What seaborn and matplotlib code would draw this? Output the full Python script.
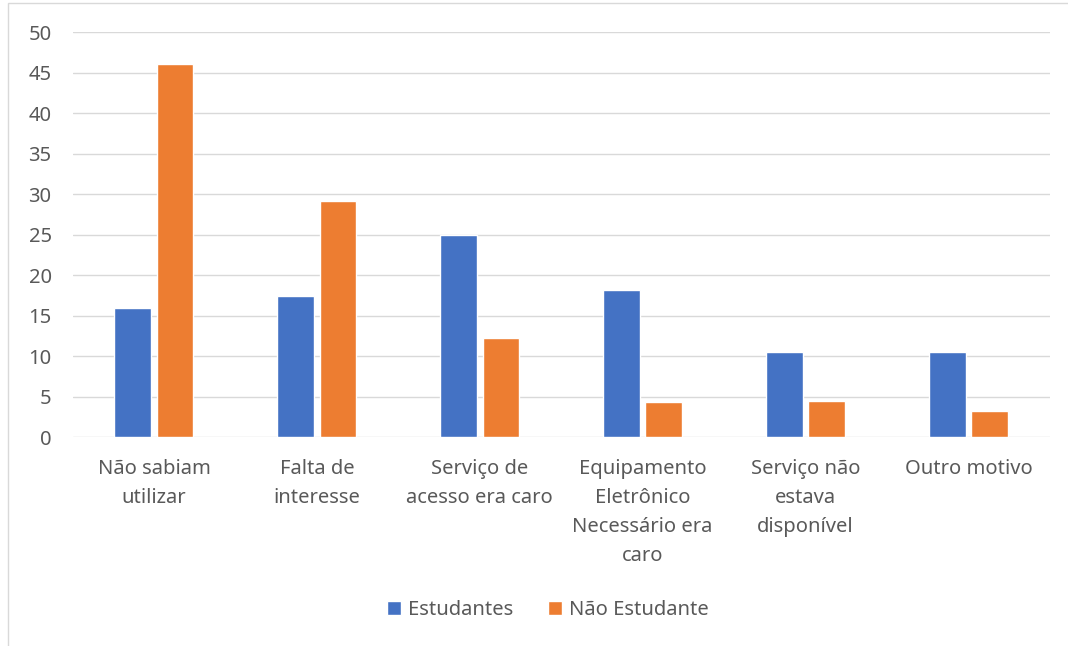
import matplotlib
matplotlib.use("Agg")
import matplotlib.pyplot as plt
from matplotlib.patches import Rectangle
import pandas as pd
import seaborn as sns

# Dados
categorias = ["Não sabiam\nutilizar", "Falta de\ninteresse", "Serviço de\nacesso era caro",
              "Equipamento\nEletrônico\nNecessário era\ncaro", "Serviço não\nestava\ndisponível",
              "Outro motivo"]
estudantes = [15.9, 17.4, 25.0, 18.2, 10.5, 10.5]
nao_estudantes = [46.1, 29.1, 12.2, 4.3, 4.5, 3.2]
grupos = ["Estudantes", "Não Estudante"]
cores = ["#4472C4", "#ED7D31"]
yticks = list(range(0, 55, 5))

df = pd.DataFrame({
    "categoria": categorias * 2,
    "valor": estudantes + nao_estudantes,
    "grupo": [grupos[0]] * len(categorias) + [grupos[1]] * len(categorias),
})

sns.set_theme(style="white")
plt.rcParams["font.family"] = ["Noto Sans", "DejaVu Sans"]

fig = plt.figure(figsize=(10.68, 6.46), dpi=100)
ax = fig.add_axes([0.0679, 0.3235, 0.9151, 0.6265])

sns.barplot(data=df, x="categoria", y="valor", hue="grupo", palette=cores,
            width=0.52, gap=0.135, ax=ax, saturation=1, legend=True)

ax.set_ylim(0, 50)
ax.set_xlim(-0.5, len(categorias) - 0.5)
ax.set_yticks(yticks)
ax.yaxis.grid(True, color="#d9d9d9", linewidth=1.0)
ax.set_axisbelow(True)
for s in ax.spines.values():
    s.set_visible(False)
ax.set_xlabel("")
ax.set_ylabel("")
ax.tick_params(axis="y", labelsize=14.5, colors="#595959", length=0, pad=15)
ax.tick_params(axis="x", labelsize=14.5, colors="#595959", length=0, pad=16)
for lbl in ax.get_xticklabels():
    lbl.set_linespacing(1.6)

leg = ax.legend(loc="center", bbox_to_anchor=(0.513, 0.055), bbox_transform=fig.transFigure,
                ncol=2, frameon=False, fontsize=14.5, handlelength=0.7, handleheight=0.7,
                columnspacing=1.7, handletextpad=0.35)
for t in leg.get_texts():
    t.set_color("#595959")

# moldura do gráfico
fig.patches.append(Rectangle((8 / 1068, -0.05), 1.1, 1 - 3 / 646 + 0.05,
                             transform=fig.transFigure, fill=False,
                             edgecolor="#d9d9d9", linewidth=1.0))

fig.savefig("out.png", dpi=100)
